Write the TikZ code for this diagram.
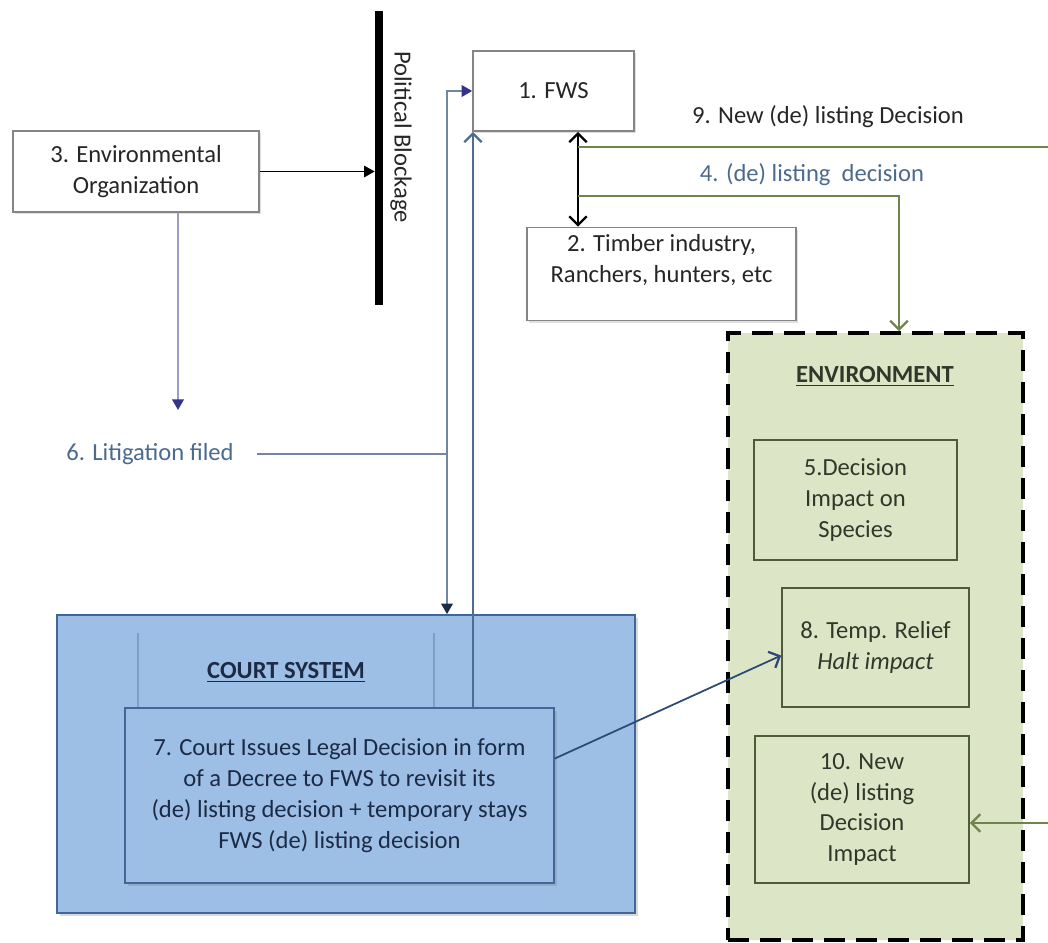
\documentclass[tikz,border=0pt]{standalone}
\usepackage{fontspec}
\setmainfont{Carlito}
\usepackage{tikz}
\usetikzlibrary{arrows.meta,shadows}
\definecolor{boxgray}{HTML}{858585}
\definecolor{darktext}{HTML}{262626}
\definecolor{steeltext}{HTML}{4B6A8E}
\definecolor{courtfill}{HTML}{9DBFE6}
\definecolor{courtline}{HTML}{41679A}
\definecolor{courttext}{HTML}{1C2B45}
\definecolor{envfill}{HTML}{DDE5C7}
\definecolor{envline}{HTML}{4F5B37}
\definecolor{envtext}{HTML}{33362A}
\definecolor{greenline}{HTML}{71844C}
\definecolor{lavline}{HTML}{9C9CC8}
\definecolor{purpletip}{HTML}{34348A}
\definecolor{blueline}{HTML}{7385A6}
\definecolor{upline}{HTML}{4D6D93}
\definecolor{decline}{HTML}{2B4A75}
\newcommand\diagfont{\fontsize{14}{17.5}\selectfont}

\begin{document}
\begin{tikzpicture}[x=0.02cm,y=-0.02cm,font=\diagfont,
    whitebox/.style={draw=boxgray,fill=white,line width=0.9pt,align=center,inner sep=0pt,text=darktext,
      drop shadow={opacity=0.25,shadow xshift=1.2pt,shadow yshift=-1.2pt}},
    courtbox/.style={draw=courtline,fill=courtfill,line width=1pt,align=center,inner sep=0pt,text=courttext,
      drop shadow={opacity=0.3,shadow xshift=1.5pt,shadow yshift=-1.5pt}},
    envbox/.style={draw=envline,line width=1pt,align=center,inner sep=0pt,text=envtext},
    tri/.style={-{Triangle[length=6pt,width=6.5pt]}},
    barb/.style={-{Straight Barb[length=5pt,width=10pt,line width=1.3pt]}},
    dblbarb/.style={{Straight Barb[length=5pt,width=10pt,line width=1.3pt]}-{Straight Barb[length=5pt,width=10pt,line width=1.3pt]}}]
  \useasboundingbox (0,0) rectangle (1048,943);

  % environment
  \node[draw=black,fill=envfill,line width=2.2pt,dash pattern=on 0.42cm off 0.22cm,
        minimum width=5.9cm,minimum height=12.14cm] (env) at (875.5,636.5) {};
  \node[text=envtext] (envtitle) at (875,376) {\underline{\textbf{ENVIRONMENT}}};
  \node[envbox,minimum width=4.06cm,minimum height=2.4cm] (impact) at (855.5,500) {5.Decision\\Impact on\\Species};
  \node[envbox,minimum width=3.74cm,minimum height=2.38cm] (relief) at (875.5,647.5) {8. Temp. Relief\\\textit{Halt impact}};
  \node[envbox,minimum width=4.28cm,minimum height=2.94cm] (newimpact) at (862,809.5) {10. New\\(de) listing\\Decision\\Impact};

  % court
  \node[courtbox,minimum width=11.56cm,minimum height=5.96cm] (court) at (346,764) {};
  \draw[courtline!35!courtfill,line width=0.6pt] (138,633) -- (138,708) (434,633) -- (434,708);
  \node[text=courttext] (courttitle) at (286,672) {\underline{\textbf{COURT SYSTEM}}};
  \node[courtbox,minimum width=8.58cm,minimum height=3.5cm] (decree) at (339.5,795.5)
    {7. Court Issues Legal Decision in form\\of a Decree to FWS to revisit its\\(de) listing decision + temporary stays\\FWS (de) listing decision};

  % actors
  \node[whitebox,minimum width=4.92cm,minimum height=1.62cm] (org) at (136,171.5) {3. Environmental\\Organization};
  \node[whitebox,minimum width=3.22cm,minimum height=1.6cm] (fws) at (553.5,91) {1. FWS};
  \node[whitebox,minimum width=5.38cm,minimum height=1.86cm] (timber) at (661.5,274) {2. Timber industry,\\Ranchers, hunters, etc\\\mbox{}};
  \node[fill=black,minimum width=0.16cm,minimum height=5.88cm,inner sep=0pt] (bar) at (379,158) {};
  \node[rotate=-90,text=darktext] (blocklabel) at (401,137) {Political Blockage};

  \coordinate (shaft) at (578,0);
  \coordinate (j9) at (578,147);
  \coordinate (j4) at (578,196);
  \coordinate (c4) at (899,196);
  \coordinate (e9) at (1048,147);
  \coordinate (e10) at (1048,823);
  \coordinate (orgend) at (178,410);
  \coordinate (jn) at (447,454);
  \coordinate (up) at (473,0);

  \node[text=darktext] (lab9) at (828,117) {9. New (de) listing Decision};
  \node[text=steeltext] (lab4) at (812,175) {4. (de) listing\ \ decision};
  \node[text=steeltext] (lit) at (150,454) {6. Litigation filed};

  % connectors
  \draw[tri,line width=1pt] (org.east) -- (org.east -| bar.west);
  \draw[lavline,line width=1.3pt,-{Triangle[length=6pt,width=6.5pt,color=purpletip]}] (org.south -| orgend) -- (orgend);
  \draw[blueline,line width=1.3pt,shorten <=0.35cm] (lit.east) -- (lit.east -| jn);
  \draw[blueline,line width=1.3pt,-{Triangle[length=6pt,width=6.5pt,color=purpletip]}] (jn) |- (fws.west);
  \draw[blueline,line width=1.3pt,-{Triangle[length=6pt,width=6.5pt,color=courttext]}] (jn) -- (court.north -| jn);
  \draw[upline,line width=1.2pt,barb] (decree.north -| up) -- (fws.south -| up);
  \draw[black,line width=1.2pt,dblbarb] (fws.south -| shaft) -- (timber.north -| shaft);
  \draw[greenline,line width=1pt] (j9) -- (e9);
  \draw[greenline,line width=1pt,barb] (j4) -| (env.north -| c4);
  \draw[greenline,line width=1pt,barb] (e10) -- (e10 -| newimpact.east);
  \draw[decline,line width=1pt,barb] ([yshift=0.74cm]decree.east) -- ([yshift=-0.16cm]relief.west);
\end{tikzpicture}
\end{document}
